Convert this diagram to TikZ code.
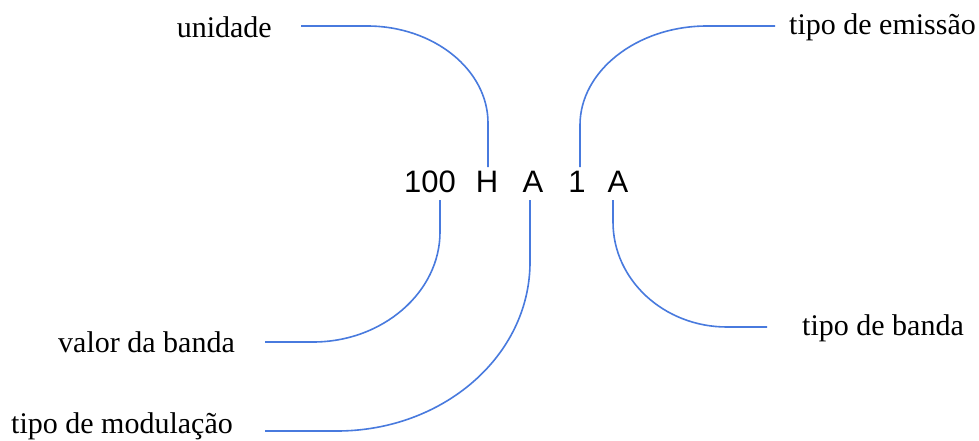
\documentclass[tikz,border=0pt]{standalone}
\usepackage{fontspec}
\setmainfont{Liberation Serif}
\newfontfamily\arialfont{Liberation Sans}
\definecolor{linkblue}{RGB}{72,122,222}
\begin{document}
\begin{tikzpicture}[x=1pt,y=-1pt,
  lab/.style={inner sep=0pt,font=\fontsize{30}{30}\selectfont},
  code/.style={inner sep=0pt,font=\arialfont\fontsize{31}{31}\selectfont,anchor=base},
  conn/.style={draw=linkblue,line width=1.6pt}]
\path[fill=white,use as bounding box] (0,0) rectangle (979,441);
% code characters
\node[code] (n100) at (430,192) {100};
\node[code] (h) at (487,192) {H};
\node[code] (a1) at (533,192) {A};
\node[code] (one) at (577,192) {1};
\node[code] (a2) at (618,192) {A};
% labels
\node[lab,anchor=base east] (unidade) at (272,38) {unidade};
\node[lab,anchor=base west] (emissao) at (789,35) {tipo de emissão};
\node[lab,anchor=base east] (valor) at (235,352) {valor da banda};
\node[lab,anchor=base east] (modul) at (233,433) {tipo de modulação};
\node[lab,anchor=base west] (banda) at (802,335) {tipo de banda};
% connector ends
\coordinate (uS) at (301,26);
\coordinate (uE) at (488,167);
\coordinate (eS) at (775,26);
\coordinate (eE) at (580,167);
\coordinate (vS) at (265,342);
\coordinate (vE) at (440,200);
\coordinate (mS) at (265,431);
\coordinate (mE) at (530,200);
\coordinate (bS) at (767,327);
\coordinate (bE) at (613,200);
% connectors
\draw[conn] (uS) -- (367,26) .. controls (434,26) and (488,70) .. (488,123) -- (uE);
\draw[conn] (eS) -- (707,26) .. controls (637,26) and (580,71) .. (580,125) -- (eE);
\draw[conn] (vS) -- (313,342) .. controls (383,342) and (440,292) .. (440,232) -- (vE);
\draw[conn] (mS) -- (337,431) .. controls (443,431) and (530,356) .. (530,262) -- (mE);
\draw[conn] (bS) -- (727,327) .. controls (664,327) and (613,280) .. (613,222) -- (bE);
\end{tikzpicture}
\end{document}
